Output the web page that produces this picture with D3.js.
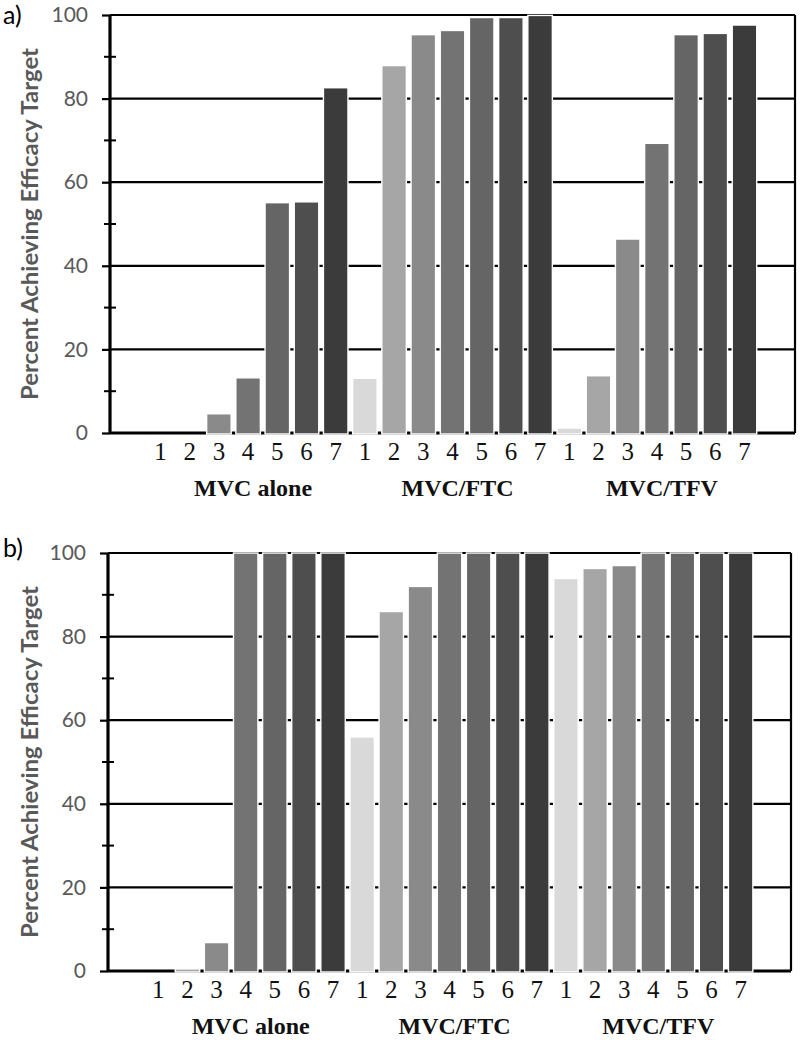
<!DOCTYPE html>
<html>
<head>
<meta charset="utf-8">
<script src="https://cdn.jsdelivr.net/npm/d3@7/dist/d3.min.js"></script>
<style>
  html, body { margin: 0; padding: 0; background: #fff; }
  svg { display: block; }
</style>
</head>
<body>
<svg id="chart" width="800" height="1040"></svg>
<script>
// ---- data ----
const groups = ["MVC alone", "MVC/FTC", "MVC/TFV"];
const doses = ["1", "2", "3", "4", "5", "6", "7"];
const yTicks = [0, 20, 40, 60, 80, 100];
const yMinorTicks = [10, 30, 50, 70, 90];

// panel a)
const aMVCalone = [0, 0, 4.6, 13.2, 55.1, 55.3, 82.6];
const aMVCFTC   = [13.1, 87.9, 95.3, 96.3, 99.4, 99.4, 99.9];
const aMVCTFV   = [1.2, 13.7, 46.4, 69.3, 95.3, 95.6, 97.6];
// panel b)
const bMVCalone = [0, 0.5, 6.8, 100, 100, 100, 100];
const bMVCFTC   = [56, 86, 92, 100, 100, 100, 100];
const bMVCTFV   = [93.9, 96.3, 97.0, 100, 100, 100, 100];

const panelLabels = ["a)", "b)"];
const yTitle = "Percent Achieving Efficacy Target";

// ---- styles ----
const shades = ["#d9d9d9", "#a6a6a6", "#8a8a8a", "#737373", "#656565", "#4e4e4e", "#3b3b3b"];
const panels = [
  { label: panelLabels[0], series: [aMVCalone, aMVCFTC, aMVCTFV], x0: 110, x1: 795, yTop: 15,  yBase: 433, labelY: 24 },
  { label: panelLabels[1], series: [bMVCalone, bMVCFTC, bMVCTFV], x0: 108, x1: 791, yTop: 553, yBase: 971, labelY: 557 }
];

const svg = d3.select("#chart");

panels.forEach(p => {
  const g = svg.append("g");
  const rows = [];
  groups.forEach((grp, gi) => {
    doses.forEach((d, di) => {
      rows.push({ key: grp + "|" + d, group: grp, dose: d, di: di, value: p.series[gi][di] });
    });
  });

  const x = d3.scaleBand()
    .domain(rows.map(r => r.key))
    .range([p.x0, p.x1])
    .paddingInner(0.16)
    .paddingOuter(1.31);
  const y = d3.scaleLinear().domain([0, 100]).range([p.yBase, p.yTop]);

  // gridlines (behind bars)
  g.append("g").selectAll("line")
    .data(yTicks.filter(t => t > 0))
    .join("line")
    .attr("x1", p.x0).attr("x2", p.x1)
    .attr("y1", d => y(d)).attr("y2", d => y(d))
    .attr("stroke", "#000").attr("stroke-width", 2.2);

  // right frame
  g.append("line")
    .attr("x1", p.x1).attr("x2", p.x1)
    .attr("y1", y(100)).attr("y2", y(0))
    .attr("stroke", "#000").attr("stroke-width", 2.2);

  // baseline
  g.append("line")
    .attr("x1", p.x0).attr("x2", p.x1)
    .attr("y1", y(0)).attr("y2", y(0))
    .attr("stroke", "#000").attr("stroke-width", 3);

  // bars
  g.append("g").selectAll("rect")
    .data(rows.filter(r => r.value > 0))
    .join("rect")
    .attr("x", d => x(d.key))
    .attr("width", x.bandwidth())
    .attr("y", d => y(d.value))
    .attr("height", d => Math.max(0, y(0) - y(d.value) + 1))
    .attr("fill", d => shades[d.di])
    .attr("stroke", "#fff")
    .attr("stroke-width", 1.4);

  // left axis with ticks
  const yAxis = d3.axisLeft(y).tickValues(yTicks).tickSize(8).tickPadding(14);
  const ax = g.append("g").attr("transform", `translate(${p.x0},0)`).call(yAxis);
  ax.select(".domain").attr("stroke", "#000").attr("stroke-width", 3.2)
    .attr("d", `M0,${y(100)}V${y(0)}`);
  ax.selectAll(".tick line").attr("stroke", "#000").attr("stroke-width", 2.2);
  ax.selectAll(".tick text")
    .attr("font-family", "Lato, 'Open Sans', sans-serif")
    .attr("font-size", 21)
    .attr("fill", "#595959");

  // minor ticks crossing the axis
  g.append("g").selectAll("line")
    .data(yMinorTicks)
    .join("line")
    .attr("x1", p.x0 - 6).attr("x2", p.x0 + 6)
    .attr("y1", d => y(d)).attr("y2", d => y(d))
    .attr("stroke", "#000").attr("stroke-width", 2);

  // dose labels
  g.append("g").selectAll("text")
    .data(rows)
    .join("text")
    .attr("x", d => x(d.key) + x.bandwidth() / 2)
    .attr("y", p.yBase + 27)
    .attr("text-anchor", "middle")
    .attr("font-family", "'Liberation Serif', 'DejaVu Serif', serif")
    .attr("font-size", 25)
    .attr("fill", "#111")
    .text(d => d.dose);

  // group labels
  g.append("g").selectAll("text")
    .data(groups)
    .join("text")
    .attr("x", grp => {
      const a = x(grp + "|" + doses[0]);
      const b = x(grp + "|" + doses[doses.length - 1]) + x.bandwidth();
      return (a + b) / 2 + 5;
    })
    .attr("y", p.yBase + 63)
    .attr("text-anchor", "middle")
    .attr("font-family", "'Liberation Serif', 'DejaVu Serif', serif")
    .attr("font-weight", "bold")
    .attr("font-size", 24)
    .attr("fill", "#111")
    .text(grp => grp);

  // y title
  const cy = (p.yTop + p.yBase) / 2;
  g.append("text")
    .attr("transform", `translate(38,${cy}) rotate(-90)`)
    .attr("text-anchor", "middle")
    .attr("font-family", "Lato, 'Open Sans', sans-serif")
    .attr("font-weight", "bold")
    .attr("font-size", 22)
    .attr("fill", "#595959")
    .attr("textLength", 352)
    .attr("lengthAdjust", "spacingAndGlyphs")
    .text(yTitle);

  // panel label
  g.append("text")
    .attr("x", 3).attr("y", p.labelY)
    .attr("font-family", "Lato, 'Open Sans', sans-serif")
    .attr("font-size", 25)
    .attr("fill", "#000")
    .text(p.label);
});
</script>
</body>
</html>
